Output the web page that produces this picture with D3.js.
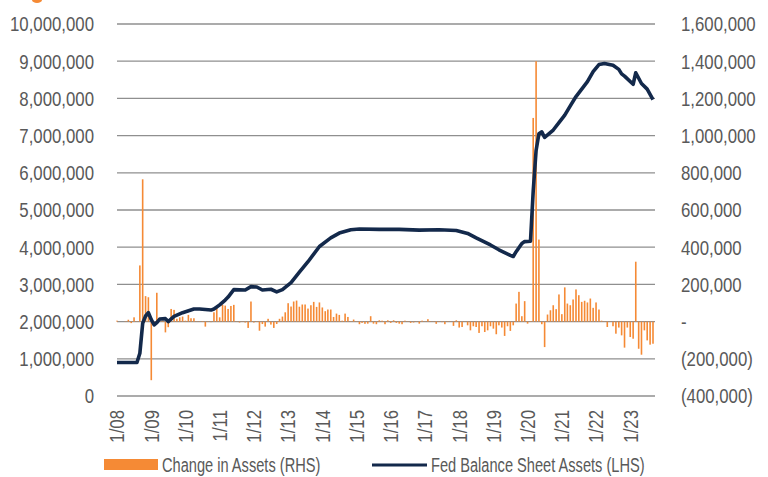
<!DOCTYPE html>
<html>
<head>
<meta charset="utf-8">
<script src="https://cdn.jsdelivr.net/npm/d3@7"></script>
<style>
  body { margin: 0; background: #fff; }
  svg text { font-family: "Liberation Sans", "Roboto", sans-serif; fill: #595959; }
</style>
</head>
<body>
<div class="fed-chart"></div>
<script>
// monthly change in assets, thousands of $, Jan 2008 .. Sep 2023 (RHS)
const changeStart = '2008-01';
const changeValues = [
  5, 0, 0, 2, 10, -8, 23, 2, 302, 765, 137, 131,
  -315, 3, 155, 3, 5, -58, -30, 68, 63, 15, 23, 27,
  5, 36, 18, 18, 2, 2, 3, -27, 2, -3, 50, 81,
  23, 90, 86, 68, 84, 90, 2, -5, 2, -5, -34, 108,
  -5, 3, -49, -13, -27, 15, -16, -34, -13, 15, 27, 50,
  99, 81, 108, 113, 80, 92, 92, 70, 88, 106, 79, 103,
  76, 56, 65, 65, 25, 43, 36, 5, 43, 25, 2, 11,
  2, -14, -7, -12, -11, 29, -11, -14, 7, 5, -14, 7,
  -7, 7, -7, -11, -14, 5, 2, -7, -5, 2, -11, 5,
  2, 13, 2, -2, -12, 2, -3, -14, 2, 2, -23, 7,
  -32, -29, 2, -20, -47, -25, -29, -61, -25, -56, -47, -25,
  -38, -68, -20, -32, -77, -25, -50, -20, 97, 160, 29, 110,
  -11, 3, 1095, 1400, 441, -14, -137, 38, 61, 88, 67, 146,
  40, 184, 97, 88, 119, 173, 142, 106, 112, 103, 124, 74,
  103, 65, 5, 2, -29, 2, -25, -65, -32, -74, -140, -32,
  -83, -92, 322, -146, -178, -47, -101, -124, -119
];

// Fed balance sheet assets, millions of $ (LHS)
const assetDates = [
  '2008-01','2008-08','2008-09','2008-10','2008-11','2008-12','2009-01','2009-02','2009-03','2009-04',
  '2009-06','2009-07','2009-09','2009-12','2010-04','2010-06','2010-10','2010-11','2011-01','2011-03',
  '2011-04','2011-06','2011-10','2011-12','2012-02','2012-04','2012-07','2012-09','2012-11','2013-02',
  '2013-05','2013-08','2013-12','2014-04','2014-07','2014-11','2015-02','2015-09','2016-04','2016-11',
  '2017-06','2017-12','2018-04','2018-07','2018-12','2019-03','2019-07','2019-08','2019-09','2019-11',
  '2019-12','2020-02','2020-03','2020-04','2020-05','2020-06','2020-07','2020-10','2020-12','2021-02',
  '2021-04','2021-06','2021-10','2021-12','2022-02','2022-04','2022-07','2022-09','2022-10','2022-11',
  '2023-02','2023-03','2023-05','2023-07','2023-09'
];
const assetValues = [
  0.90, 0.90, 1.15, 1.95, 2.15, 2.24, 2.05, 1.91, 1.97, 2.07,
  2.08, 2.00, 2.14, 2.24, 2.34, 2.34, 2.31, 2.34, 2.45, 2.58,
  2.66, 2.86, 2.85, 2.94, 2.93, 2.85, 2.87, 2.80, 2.86, 3.05,
  3.33, 3.61, 4.02, 4.25, 4.38, 4.47, 4.49, 4.48, 4.48, 4.46,
  4.47, 4.45, 4.37, 4.25, 4.06, 3.93, 3.78, 3.75, 3.88, 4.10,
  4.15, 4.16, 5.50, 6.60, 7.05, 7.10, 6.95, 7.15, 7.35, 7.55,
  7.80, 8.05, 8.45, 8.72, 8.91, 8.94, 8.89, 8.78, 8.66, 8.60,
  8.38, 8.69, 8.40, 8.25, 7.97
];

const tickYears = ['2008','2009','2010','2011','2012','2013','2014','2015','2016','2017','2018','2019','2020','2021','2022','2023'];
const leftTicks = [0, 1, 2, 3, 4, 5, 6, 7, 8, 9, 10];
const rightTicks = [-400, -200, 0, 200, 400, 600, 800, 1000, 1200, 1400, 1600];
const legendLabels = ['Change in Assets (RHS)', 'Fed Balance Sheet Assets (LHS)'];

const width = 768;
const height = 477;
const squeeze = 0.8; // condensed look
const parseMonth = d3.timeParse('%Y-%m');

const svg = d3.select('.fed-chart')
    .append('svg')
    .attr('width', width)
    .attr('height', height)

const x = d3.scaleTime()
    .domain([parseMonth('2008-01'), parseMonth('2023-09')])
    .range([117, 653]);
const yLeft = d3.scaleLinear().domain([0, 10]).range([396, 24]);
const yRight = d3.scaleLinear().domain([-400, 1600]).range([396, 24]);

const fmt = d3.format(',');

// little orange bit cut off at the top
svg.append('ellipse')
    .attr('cx', 37).attr('cy', 0).attr('rx', 5).attr('ry', 3)
    .attr('fill', '#f58a35');

// gridlines
svg.selectAll('.grid')
    .data(leftTicks)
    .enter()
    .append('line')
    .attr('class', 'grid')
    .attr('x1', 117)
    .attr('x2', 655)
    .attr('y1', d => yLeft(d))
    .attr('y2', d => yLeft(d))
    .attr('stroke', '#8f8f8f')
    .attr('stroke-width', 1.3)

// bars
const start = parseMonth(changeStart);
const bars = changeValues.map((v, i) => ({ date: d3.timeMonth.offset(start, i), value: v }));

svg.selectAll('.bar')
    .data(bars)
    .enter()
    .append('rect')
    .attr('class', 'bar')
    .attr('x', d => x(d.date) - 0.8)
    .attr('width', 1.6)
    .attr('y', d => Math.min(yRight(d.value), yRight(0)))
    .attr('height', d => Math.abs(yRight(d.value) - yRight(0)))
    .attr('fill', '#f58a35')

// line
const linePts = assetDates.map((d, i) => ({ date: parseMonth(d), value: assetValues[i] }));
const line = d3.line()
    .x(d => x(d.date))
    .y(d => yLeft(d.value));

svg.append('path')
    .datum(linePts)
    .attr('d', line)
    .attr('fill', 'none')
    .attr('stroke', '#13294b')
    .attr('stroke-width', 3.6)
    .attr('stroke-linejoin', 'round')

// left labels
svg.selectAll('.ylab')
    .data(leftTicks)
    .enter()
    .append('text')
    .attr('class', 'ylab')
    .text(d => fmt(d * 1000000))
    .attr('transform', d => 'translate(94,' + yLeft(d) + ') scale(' + squeeze + ',1)')
    .attr('dy', '0.35em')
    .attr('text-anchor', 'end')
    .attr('font-size', 21)

// right labels
svg.selectAll('.rlab')
    .data(rightTicks)
    .enter()
    .append('text')
    .attr('class', 'rlab')
    .text(function (d) {
        if (d == 0) {
            return '-';
        }
        else if (d < 0) {
            return '(' + fmt(-d * 1000) + ')';
        }
        return fmt(d * 1000);
    })
    .attr('transform', d => 'translate(681,' + yRight(d) + ') scale(' + squeeze + ',1)')
    .attr('dy', '0.35em')
    .attr('font-size', 21)

// x labels, rotated
svg.selectAll('.xlab')
    .data(tickYears)
    .enter()
    .append('text')
    .attr('class', 'xlab')
    .text(d => '1/' + d.slice(2))
    .attr('transform', d => 'translate(' + x(parseMonth(d + '-01')) + ',410) rotate(-90) scale(' + squeeze + ',1)')
    .attr('dy', '0.35em')
    .attr('text-anchor', 'end')
    .attr('font-size', 21)

// legend
svg.append('rect')
    .attr('x', 104).attr('y', 459)
    .attr('width', 54).attr('height', 11)
    .attr('fill', '#f58a35');
svg.append('text')
    .text(legendLabels[0])
    .attr('transform', 'translate(162,465) scale(0.75,1)')
    .attr('dy', '0.35em')
    .attr('font-size', 19.5)
svg.append('line')
    .attr('x1', 372).attr('x2', 427)
    .attr('y1', 465).attr('y2', 465)
    .attr('stroke', '#13294b')
    .attr('stroke-width', 3.2)
svg.append('text')
    .text(legendLabels[1])
    .attr('transform', 'translate(431,465) scale(0.75,1)')
    .attr('dy', '0.35em')
    .attr('font-size', 19.5)
</script>
</body>
</html>
